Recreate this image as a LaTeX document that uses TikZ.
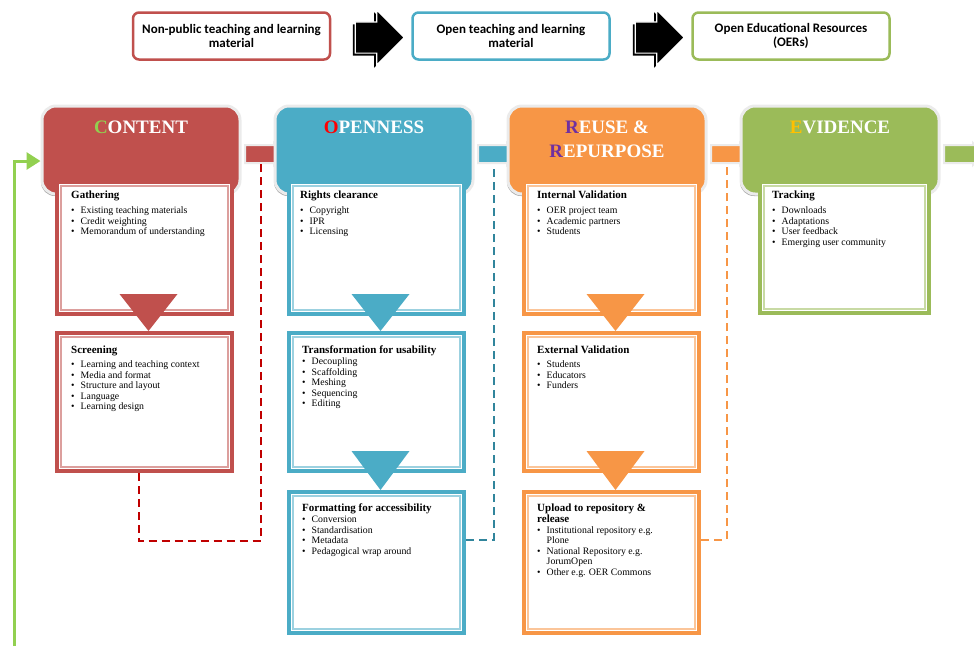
\documentclass[tikz,border=0pt]{standalone}
\usepackage{fontspec}
\setmainfont{Liberation Serif}
\newfontfamily\calibri{Carlito}
\usetikzlibrary{arrows.meta,shapes.arrows,shadows,backgrounds,positioning}

\definecolor{cred}{HTML}{C0504D}
\definecolor{cblue}{HTML}{4BACC6}
\definecolor{corange}{HTML}{F79646}
\definecolor{cgreen}{HTML}{9BBB59}
\definecolor{lgreen}{HTML}{92D050}
\definecolor{dred}{HTML}{C00000}
\definecolor{dblue}{HTML}{31859C}
\definecolor{purp}{HTML}{7030A0}
\definecolor{gold}{HTML}{FFC000}

\newcommand{\itm}{\makebox[9.5pt][l]{\textbullet}}
\newcommand{\ttl}[1]{{\bfseries\fontsize{11}{13}\selectfont #1}}

\begin{document}
\begin{tikzpicture}[x=1pt, y=1pt, node distance=233pt,
  topbox/.style={draw=#1, line width=2.5pt, rounded corners=6pt, fill=white, minimum width=197pt, minimum height=47pt, align=center, font=\calibri\bfseries\fontsize{13}{14.5}\selectfont},
  bigarrow/.style={single arrow, fill=black, draw=white, line width=1.2pt, minimum height=49pt, inner xsep=0pt, inner ysep=15pt, single arrow head extend=12pt, single arrow head indent=0pt, drop shadow={shadow xshift=-2.5pt, shadow yshift=-2.5pt, fill=black, opacity=1}},
  phase/.style={fill=#1, draw=black!8, line width=3pt, rounded corners=14pt, minimum width=198pt, minimum height=88pt, drop shadow={shadow xshift=-1pt, shadow yshift=-2pt, opacity=.7}},
  phasename/.style={text=white, font=\bfseries\fontsize{19}{24}\selectfont, align=center, anchor=north, inner sep=0pt},
  link/.style={single arrow, fill=#1, draw=black!8, line width=2pt, minimum height=40pt, inner xsep=0pt, inner ysep=8pt, single arrow head extend=2pt, single arrow head indent=0pt},
  stagebox/.style={draw=#1, line width=4pt, fill=white, minimum width=175pt, inner sep=0pt},
  stagetext/.style={anchor=north west, inner sep=0pt, align=left, font=\fontsize{9.8}{10.6}\selectfont},
  backlink/.style={dash pattern=on 8pt off 5pt, line width=2pt, draw=#1},
]
  \useasboundingbox (0,0) rectangle (974,-646);

  \node[topbox=cred] (npub) at (231.5,-36) {Non-public teaching and learning\\material};
  \node[bigarrow] (arr1) at (372,-37.5) {};
  \node[topbox=cblue] (open) at (511,-36) {Open teaching and learning\\material};
  \node[bigarrow] (arr2) at (652,-37.5) {};
  \node[topbox=cgreen] (oer) at (791,-36) {Open Educational Resources\\(OERs)};

  \node[phase=cred] (content) at (141,-150) {};
  \node[phase=cblue, right of=content] (openness) {};
  \node[phase=corange, right of=openness] (reuse) {};
  \node[phase=cgreen, right of=reuse] (evidence) {};

  \node[phasename] (contentT) at ([yshift=-16pt]content.north) {\textcolor{lgreen}{C}ONTENT};
  \node[phasename] (opennessT) at ([yshift=-16pt]openness.north) {\textcolor{red}{O}PENNESS};
  \node[phasename] (reuseT) at ([yshift=-16pt]reuse.north) {\textcolor{purp}{R}EUSE \&\\\textcolor{purp}{R}EPURPOSE};
  \node[phasename] (evidenceT) at ([yshift=-16pt]evidence.north) {\textcolor{gold}{E}VIDENCE};

  \begin{pgfonlayer}{background}
    \node[link=cred] (l1) at ([xshift=19pt,yshift=-4pt]content.east) {};
    \node[link=cblue] (l2) at ([xshift=19pt,yshift=-4pt]openness.east) {};
    \node[link=corange] (l3) at ([xshift=19pt,yshift=-4pt]reuse.east) {};
    \node[link=cgreen] (l4) at ([xshift=19pt,yshift=-4pt]evidence.east) {};
  \end{pgfonlayer}

  \node[stagebox=cred, minimum height=132pt] (gather) at (144.5,-248) {};
  \node[stagebox=cred, minimum height=138pt, below of=gather, node distance=154pt] (screen) {};
  \node[stagebox=cblue, minimum height=132pt] (rights) at (376.5,-248) {};
  \node[stagebox=cblue, minimum height=138pt, below of=rights, node distance=154pt] (transf) {};
  \node[stagebox=cblue, minimum height=141pt, below of=transf, node distance=160.5pt] (format) {};
  \node[stagebox=corange, minimum height=132pt] (intval) at (611.5,-248) {};
  \node[stagebox=corange, minimum height=138pt, below of=intval, node distance=154pt] (extval) {};
  \node[stagebox=corange, minimum height=141pt, below of=extval, node distance=160.5pt] (upload) {};
  \node[stagebox=cgreen, minimum height=131pt, minimum width=169pt] (track) at (844.5,-247.5) {};

  \foreach \b/\c in {gather/cred, screen/cred, rights/cblue, transf/cblue, format/cblue, intval/corange, extval/corange, upload/corange, track/cgreen}
    \draw[\c!55, line width=1.2pt] ([shift={(6pt,-6pt)}]\b.north west) rectangle ([shift={(-6pt,6pt)}]\b.south east);

  \foreach \a/\b/\c in {gather/screen/cred, rights/transf/cblue, transf/format/cblue, intval/extval/corange, extval/upload/corange}
    \fill[\c] ([xshift=-25pt,yshift=22pt]\a.south) -- ([xshift=33pt,yshift=22pt]\a.south) -- ([xshift=4pt]\b.north) -- cycle;

  \node[stagetext] (gatherT) at ([shift={(16pt,-11pt)}]gather.north west) {\ttl{Gathering}\\[4pt]
    \itm Existing teaching materials\\\itm Credit weighting\\\itm Memorandum of understanding};
  \node[stagetext] (screenT) at ([shift={(16pt,-15pt)}]screen.north west) {\ttl{Screening}\\[3pt]
    \itm Learning and teaching context\\\itm Media and format\\\itm Structure and layout\\\itm Language\\\itm Learning design};
  \node[stagetext] (rightsT) at ([shift={(13pt,-11pt)}]rights.north west) {\ttl{Rights clearance}\\[4pt]
    \itm Copyright\\\itm IPR\\\itm Licensing};
  \node[stagetext] (transfT) at ([shift={(15pt,-15pt)}]transf.north west) {\ttl{Transformation for usability}\\
    \itm Decoupling\\\itm Scaffolding\\\itm Meshing\\\itm Sequencing\\\itm Editing};
  \node[stagetext] (formatT) at ([shift={(15pt,-14pt)}]format.north west) {\ttl{Formatting for accessibility}\\
    \itm Conversion\\\itm Standardisation\\\itm Metadata\\\itm Pedagogical wrap around};
  \node[stagetext] (intvalT) at ([shift={(15pt,-11pt)}]intval.north west) {\ttl{Internal Validation}\\[4pt]
    \itm OER project team\\\itm Academic partners\\\itm Students};
  \node[stagetext] (extvalT) at ([shift={(15pt,-15pt)}]extval.north west) {\ttl{External Validation}\\[3pt]
    \itm Students\\\itm Educators\\\itm Funders};
  \node[stagetext] (uploadT) at ([shift={(15pt,-14pt)}]upload.north west) {\ttl{Upload to repository \&}\\\ttl{release}\\
    \itm Institutional repository e.g.\\\hspace*{9.5pt}Plone\\\itm National Repository e.g.\\\hspace*{9.5pt}JorumOpen\\\itm Other e.g. OER Commons};
  \node[stagetext] (trackT) at ([shift={(14pt,-11pt)}]track.north west) {\ttl{Tracking}\\[4pt]
    \itm Downloads\\\itm Adaptations\\\itm User feedback\\\itm Emerging user community};

  \draw[backlink=dred] ([xshift=-6pt]screen.south) -- ++(0,-68) -| (l1.south);
  \draw[backlink=dblue] ([yshift=23pt]format.east) -| (l2.south);
  \draw[backlink=corange] ([yshift=23pt]upload.east) -| (l3.south);

  \coordinate (fbstart) at (14,-646);
  \draw[lgreen, line width=3pt, -{Triangle[length=14pt,width=17pt]}] (fbstart) |- ([yshift=-11pt]content.west);
\end{tikzpicture}
\end{document}
